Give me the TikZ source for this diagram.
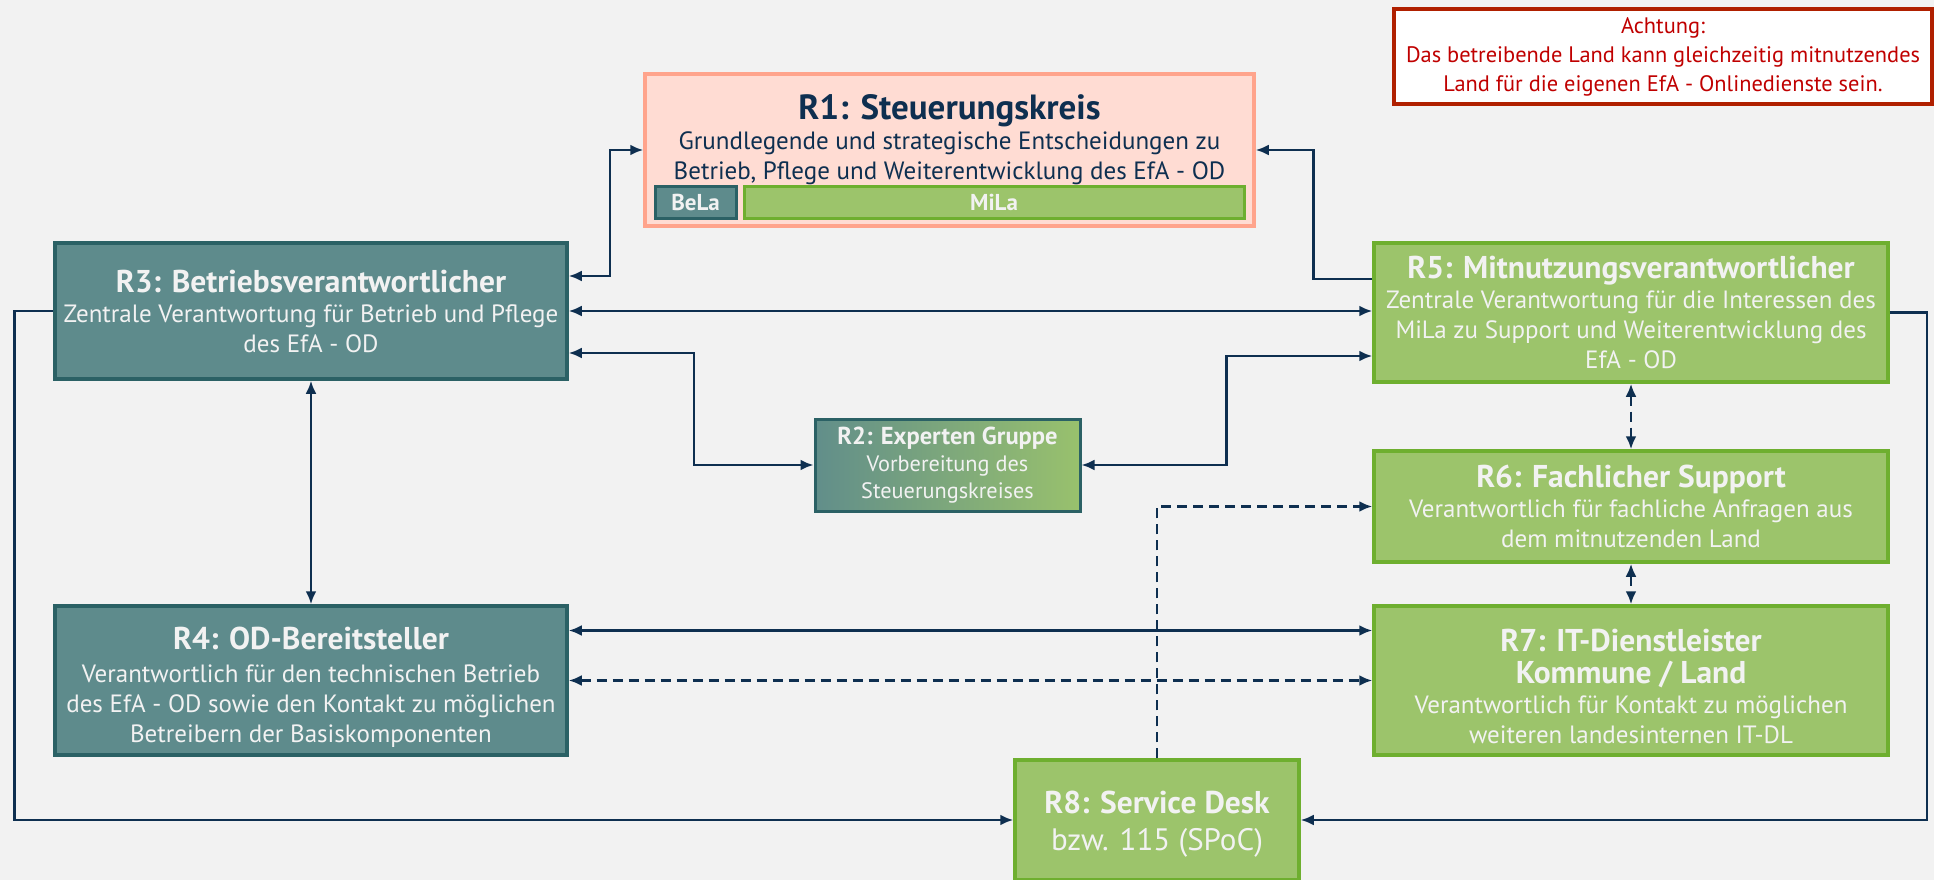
\documentclass[tikz,border=0pt]{standalone}
\usepackage{fontspec}
\setmainfont{PT Sans}
\usetikzlibrary{arrows.meta}
\usetikzlibrary{positioning}

\definecolor{bgcol}{HTML}{F2F2F2}
\definecolor{navy}{HTML}{0E2F50}
\definecolor{tealfill}{HTML}{5E8B8C}
\definecolor{tealline}{HTML}{2B6165}
\definecolor{greenfill}{HTML}{9CC46B}
\definecolor{greenline}{HTML}{6EAF2F}
\definecolor{salmonfill}{HTML}{FFDCD3}
\definecolor{salmonline}{HTML}{FFA48C}
\definecolor{warnred}{HTML}{C00000}
\definecolor{warnline}{HTML}{B02000}
\definecolor{boxtext}{HTML}{F2F2F2}

\pgfdeclarehorizontalshading{expertshade}{100bp}{color(0bp)=(tealline); color(22bp)=(tealfill);
  color(78bp)=(greenfill); color(100bp)=(greenline)}

\newcommand{\roletitle}[1]{{\fontsize{31.5}{36}\selectfont\bfseries #1}}

\begin{document}
\begin{tikzpicture}[x=1pt, y=-1pt,
    role/.style={rectangle, draw, line width=3.5pt, inner sep=0pt, align=center,
                 text=boxtext, font=\fontsize{25}{30}\selectfont},
    betrieb/.style={role, fill=tealfill, draw=tealline},
    mitnutz/.style={role, fill=greenfill, draw=greenline},
    link/.style={draw=navy, line width=2.5pt},
    dashlink/.style={link, dash pattern=on 10pt off 6pt},
    >={Latex[length=13pt,width=11pt]}]
\path[use as bounding box, fill=bgcol] (0,0) rectangle (1934,880);

% hinweis
\path (1663,56.5) node[rectangle, draw=warnline, fill=white, line width=3.5pt,
      minimum width=538pt, minimum height=95pt, align=center, text=warnred,
      font=\fontsize{22.4}{29}\selectfont] (hinweis)
      {Achtung:\\Das betreibende Land kann gleichzeitig mitnutzendes\\Land für die eigenen EfA - Onlinedienste sein.};

% R1 with BeLa / MiLa
\path (949.5,150) node[rectangle, fill=salmonfill, draw=salmonline, line width=3.5pt,
      minimum width=609pt, minimum height=152pt] (r1) {};
\path (949.5,140) node[align=center, text=navy, font=\fontsize{25}{30}\selectfont] (r1text)
      {{\fontsize{35}{38}\selectfont\bfseries R1: Steuerungskreis}\\Grundlegende und strategische Entscheidungen zu\\Betrieb, Pflege und Weiterentwicklung des EfA - OD};
\path (695.5,202) node[betrieb, line width=3pt, minimum width=81pt, minimum height=32pt,
      font=\fontsize{23}{28}\selectfont\bfseries] (bela) {BeLa};
\path (994,202) node[mitnutz, line width=3pt, minimum width=500pt, minimum height=32pt,
      font=\fontsize{23}{28}\selectfont\bfseries] (mila) {MiLa};

% betreibendes Land
\path (311,311) node[betrieb, minimum width=512pt, minimum height=136pt] (r3)
      {\roletitle{R3: Betriebsverantwortlicher}\\Zentrale Verantwortung für Betrieb und Pflege\\des EfA - OD};
\path (311,680.5) node[betrieb, minimum width=512pt, minimum height=149pt] (r4)
      {\roletitle{\rule{0pt}{35pt}R4: OD-Bereitsteller}\\[3pt]Verantwortlich für den technischen Betrieb\\des EfA - OD sowie den Kontakt zu möglichen\\Betreibern der Basiskomponenten};

% expertengruppe
\path (947.5,465) node[role, draw=tealline, shading=expertshade, line width=3pt,
      minimum width=265pt, minimum height=92pt, font=\fontsize{22.3}{27}\selectfont] (r2)
      {{\fontsize{24.5}{28}\selectfont\bfseries R2: Experten Gruppe}\\Vorbereitung des\\Steuerungskreises};

% mitnutzendes Land
\path (1631,312.5) node[mitnutz, minimum width=514pt, minimum height=139pt] (r5)
      {\roletitle{R5: Mitnutzungsverantwortlicher}\\Zentrale Verantwortung für die Interessen des\\MiLa zu Support und Weiterentwicklung des\\EfA - OD};
\path (1631,506.5) node[mitnutz, minimum width=514pt, minimum height=111pt] (r6)
      {\roletitle{R6: Fachlicher Support}\\Verantwortlich für fachliche Anfragen aus\\dem mitnutzenden Land};
\path (1631,680.5) node[mitnutz, minimum width=514pt, minimum height=149pt] (r7)
      {\roletitle{\rule{0pt}{35pt}R7: IT-Dienstleister}\\[2pt]\roletitle{Kommune / Land}\\Verantwortlich für Kontakt zu möglichen\\weiteren landesinternen IT-DL};
\path (1157,820) node[mitnutz, minimum width=284pt, minimum height=120pt,
      font=\fontsize{31}{37}\selectfont] (r8)
      {\roletitle{\rule{0pt}{31pt}R8: Service Desk}\\bzw. 115 (SPoC)};

% verbindungen
\draw[link, <->] ([yshift=35pt]r3.east) -- ++(41,0) |- (r1.west);
\draw[link, ->] ([yshift=33.5pt]r5.west) -- ++(-59,0) |- (r1.east);
\draw[link, <->] (r3.east) -- (r3.east -| r5.west);
\draw[link, <->] ([yshift=-42pt]r3.east) -- ++(125,0) |- (r2.west);
\draw[link, <->] (r2.east) -- ++(145,0) |- ([yshift=-43.5pt]r5.west);
\draw[link, <->] (r3.south) -- (r4.north);
\draw[dashlink, <->] (r5.south) -- (r6.north);
\draw[dashlink, <->] (r6.south) -- (r7.north);
\draw[link, <->] ([yshift=50pt]r4.east) -- ([yshift=50pt]r7.west);
\draw[dashlink, <->] (r4.east) -- (r7.west);
\draw[dashlink, ->] (r8.north) |- (r6.west);
\draw[link, ->] (r3.west) -- ++(-39,0) |- (r8.west);
\draw[link, ->] (r5.east) -- ++(37,0) |- (r8.east);
\end{tikzpicture}
\end{document}
